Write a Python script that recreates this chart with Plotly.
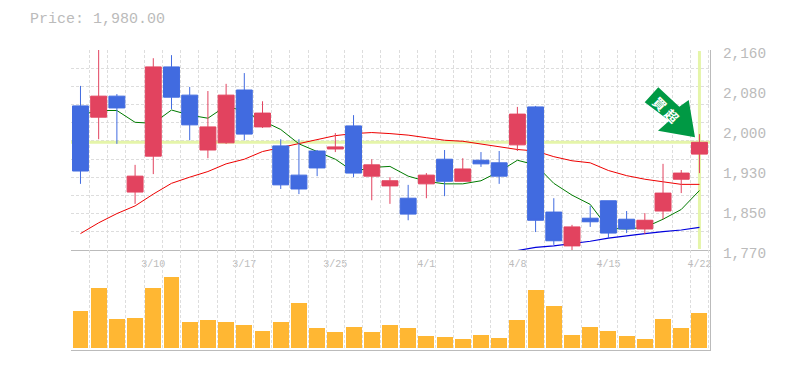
import plotly.graph_objects as go

dates = ["3/4","3/5","3/6","3/7","3/10","3/11","3/12","3/13","3/14","3/17","3/18","3/19","3/21","3/24","3/25","3/26","3/27","3/28","3/31","4/1","4/2","4/3","4/4","4/7","4/8","4/9","4/10","4/11","4/14","4/15","4/16","4/17","4/18","4/21","4/22"]
idx = list(range(len(dates)))
opens = [2051,2029,2070,1883,1953,2127,2072,1965,1979,2082,2010,1973,1916,1963,1967,2012,1914,1895,1871,1899,1947,1904,1945,1940,1975,2049,1844,1778,1832,1866,1830,1811,1846,1908,1957]
closes = [1924,2070,2047,1914,2127,2068,2014,2010,2072,1996,2037,1897,1889,1930,1971,1920,1936,1905,1840,1916,1904,1928,1938,1914,2035,1828,1788,1815,1825,1803,1811,1828,1881,1920,1980]
highs = [2090,2160,2074,1936,2144,2150,2088,2080,2094,2115,2060,1986,1986,1965,1998,2033,1947,1912,1897,1920,1965,1949,1961,1963,2049,2051,1871,1819,1856,1866,1846,1842,1938,1926,1996]
lows = [1899,1986,1977,1860,1918,2045,1984,1949,1977,1984,2008,1889,1879,1914,1961,1912,1867,1860,1828,1871,1875,1904,1932,1899,1963,1805,1780,1770,1815,1793,1803,1801,1830,1881,1920]
ma_short = [2033,2042,2042,2019,2017,2043,2033,2027,2051,2040,2022,2005,1977,1962,1947,1923,1931,1933,1914,1904,1899,1899,1905,1923,1945,1936,1900,1877,1859,1812,1811,1814,1830,1849,1886]
ma_mid = [1802,1823,1841,1856,1879,1900,1912,1923,1938,1947,1962,1970,1977,1985,1993,1997,1999,1997,1994,1989,1984,1982,1977,1972,1966,1963,1952,1944,1940,1925,1915,1908,1903,1898,1898]
ma_long_idx = idx[24:]
ma_long = [1769,1775,1778,1782,1787,1793,1798,1802,1806,1809,1814]
volumes = [111,180,87,90,180,213,78,84,78,69,51,78,135,60,48,63,48,69,60,36,33,27,39,30,84,174,126,39,63,51,36,27,87,60,105]
price = 1980
y_ticks = [2160,2082,2004,1926,1848,1770]
y_labels = ["2,160","2,080","2,000","1,930","1,850","1,770"]
x_label_dates = ["3/10","3/17","3/25","4/1","4/8","4/15","4/22"]
x_label_pos = [dates.index(d) for d in x_label_dates]

GRAY = "#bbbbbb"
GRID = "#dddddd"
MONO = "Liberation Mono, monospace"
OFF = 8  # the page shows the figure 8 px in from the window edge
W, H = 785 - OFF, 370 - OFF
L, R, T, B = 71 - OFF, 710 - OFF, 50 - OFF, 350 - OFF
X_RANGE = [-0.52, 34.58]
Y_RANGE = [1770, 2160]

def px(x): return (x - OFF - L) / (R - L)
def py(y): return (B - (y - OFF)) / (B - T)

fig = go.Figure()
fig.add_trace(go.Scatter(x=X_RANGE, y=[price, price], mode="lines", line=dict(color="#e5f5a9", width=3), xaxis="x", yaxis="y", hoverinfo="skip"))
fig.add_trace(go.Scatter(x=[idx[-1], idx[-1]], y=[1772, 2158], mode="lines", line=dict(color="#e5f5a9", width=3), xaxis="x", yaxis="y", hoverinfo="skip"))
fig.add_trace(go.Scatter(x=idx, y=ma_short, mode="lines", line=dict(color="#007a00", width=1), xaxis="x", yaxis="y"))
fig.add_trace(go.Scatter(x=idx, y=ma_mid, mode="lines", line=dict(color="#ee0000", width=1), xaxis="x", yaxis="y"))
fig.add_trace(go.Scatter(x=ma_long_idx, y=ma_long, mode="lines", line=dict(color="#0000dd", width=1.2), xaxis="x", yaxis="y"))
fig.add_trace(go.Candlestick(
    x=idx, open=opens, high=highs, low=lows, close=closes, whiskerwidth=0,
    increasing=dict(line=dict(color="#e2435f", width=1), fillcolor="#e2435f"),
    decreasing=dict(line=dict(color="#416be0", width=1), fillcolor="#416be0"),
    xaxis="x3", yaxis="y3"))
fig.add_trace(go.Bar(x=idx, y=volumes, width=0.875, marker=dict(color="#ffb733", line=dict(width=0)), xaxis="x2", yaxis="y2"))

grid_minor = dict(showgrid=True, gridcolor=GRID, griddash="3px,2px", gridwidth=1, ticks="")
fig.update_layout(
    width=W, height=H, autosize=False, showlegend=False,
    paper_bgcolor="white", plot_bgcolor="white",
    margin=dict(l=L, r=W - R, t=T, b=H - B, pad=0, autoexpand=False),
    boxgap=0.125, boxgroupgap=0, bargap=0,
    title=dict(text="Price: 1,980.00", x=(30 - OFF) / W, xanchor="left", xref="container",
               y=1 - (18 - OFF) / H, yanchor="middle", yref="container", font=dict(family=MONO, size=15, color=GRAY)),
    xaxis=dict(domain=[0, 1], range=X_RANGE, anchor="y", tickmode="array", tickvals=x_label_pos, ticktext=x_label_dates,
               showgrid=False, zeroline=False, showline=True, linecolor=GRAY, linewidth=1,
               ticks="outside", ticklen=4, tickcolor="rgba(0,0,0,0)", tickfont=dict(family=MONO, size=10, color=GRAY),
               minor=dict(tick0=-0.5, dtick=1, **grid_minor)),
    yaxis=dict(domain=[1 / 3, 1], range=Y_RANGE, side="right", anchor="x", tickmode="array", tickvals=y_ticks, ticktext=y_labels,
               showgrid=False, zeroline=False, showline=True, linecolor=GRAY, linewidth=1,
               ticks="outside", ticklen=9, tickcolor="rgba(0,0,0,0)", ticklabelshift=3, tickfont=dict(family=MONO, size=14.4, color=GRAY),
               minor=dict(tick0=1770, dtick=390 / 11, **grid_minor)),
    xaxis3=dict(overlaying="x", range=X_RANGE, anchor="y3", visible=False, rangeslider=dict(visible=False)),
    yaxis3=dict(overlaying="y", range=Y_RANGE, anchor="x3", visible=False),
    xaxis2=dict(domain=[0, 1], range=X_RANGE, anchor="y2", showticklabels=False, showgrid=False, zeroline=False,
                showline=True, linecolor=GRAY, linewidth=1, ticks="", minor=dict(tick0=-0.5, dtick=1, **grid_minor)),
    yaxis2=dict(domain=[0, 1 / 3], range=[-6, 294], side="right", anchor="x2", showticklabels=False, showgrid=False, zeroline=False,
                showline=True, linecolor=GRAY, linewidth=1, ticks=""),
)

arrow = [(644.7, 102.3), (658.3, 87.3), (679.3, 106.7), (688.7, 100), (695, 137.3), (658, 130.7), (669.3, 120.7)]
path = "M" + " L".join(f"{px(a):.4f},{py(b):.4f}" for a, b in arrow) + " Z"
fig.add_shape(type="path", xref="paper", yref="paper", path=path, fillcolor="#009944", line=dict(width=0), layer="above")
for ch, cx, cy in [("買", 660, 103), ("超", 672, 115)]:
    fig.add_annotation(text=f"<b>{ch}</b>", xref="paper", yref="paper", x=px(cx), y=py(cy), showarrow=False, textangle=45,
                       font=dict(family="Noto Sans CJK JP", size=13, color="white"), xanchor="center", yanchor="middle")

fig.write_html("out.html")
